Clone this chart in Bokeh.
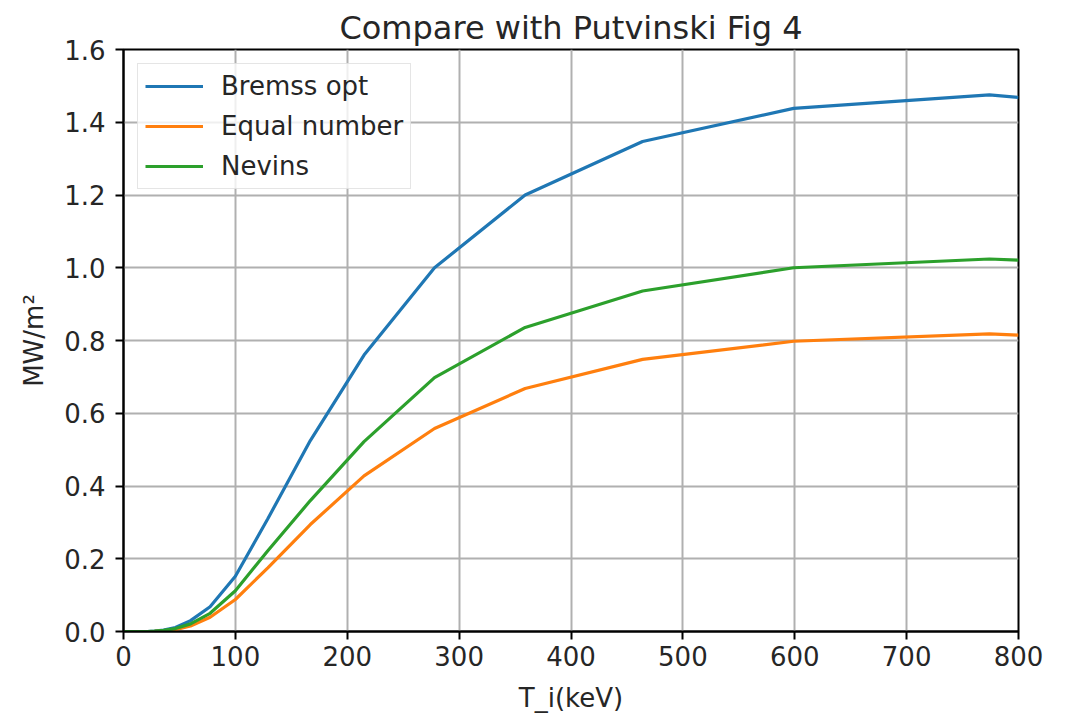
from bokeh.plotting import figure
from bokeh.models import ColumnDataSource, FixedTicker, PrintfTickFormatter, Range1d, Legend, LegendItem
from bokeh.embed import file_html
from bokeh.resources import INLINE

# Ion temperature grid (keV) and fusion power density (MW/m^2) per fuel mix
t_i = [0, 10, 12.9, 16.7, 21.5, 27.8, 35.9, 46.4, 59.9, 77.4, 100, 129, 167, 215, 278, 359, 464, 599, 774, 800]
bremss_opt = [0, 0, 0, 0, 0, 0.001, 0.004, 0.011, 0.030, 0.068, 0.152, 0.31, 0.525, 0.76, 1.0, 1.2, 1.347, 1.438, 1.475, 1.468]
equal_number = [0, 0, 0, 0, 0, 0.0005, 0.002, 0.005, 0.015, 0.039, 0.088, 0.175, 0.294, 0.428, 0.558, 0.668, 0.748, 0.798, 0.818, 0.815]
nevins = [0, 0, 0, 0, 0, 0.001, 0.003, 0.008, 0.021, 0.050, 0.112, 0.222, 0.36, 0.522, 0.698, 0.836, 0.936, 1.0, 1.024, 1.021]

x_ticks = [0, 100, 200, 300, 400, 500, 600, 700, 800]
y_ticks = [0.0, 0.2, 0.4, 0.6, 0.8, 1.0, 1.2, 1.4, 1.6]

series = [
    ("Bremss opt", bremss_opt, "#1f77b4"),
    ("Equal number", equal_number, "#ff7f0e"),
    ("Nevins", nevins, "#2ca02c"),
]

FONT = "DejaVu Sans"
TXT = "#262626"

p = figure(width=1066, height=721, output_backend="svg", toolbar_location=None,
           x_range=Range1d(0, 800), y_range=Range1d(0, 1.6),
           min_border_left=123, min_border_right=48, min_border_top=49, min_border_bottom=90,
           title="Compare with Putvinski Fig 4")

p.title.align = "center"
p.title.text_font = FONT
p.title.text_font_size = "32px"
p.title.text_font_style = "normal"
p.title.text_color = TXT
p.title.standoff = 6

items = []
for name, ys, color in series:
    src = ColumnDataSource(dict(x=t_i, y=ys))
    r = p.line("x", "y", source=src, line_color=color, line_width=3.2)
    items.append(LegendItem(label=name, renderers=[r]))

legend = Legend(items=items, location="top_left")
legend.margin = 14
legend.padding = 7
legend.spacing = 10
legend.glyph_width = 58
legend.glyph_height = 28
legend.label_height = 28
legend.label_standoff = 18
legend.label_text_font = FONT
legend.label_text_font_size = "26px"
legend.label_text_color = TXT
legend.border_line_color = "#cccccc"
legend.border_line_width = 1.5
legend.background_fill_color = "white"
legend.background_fill_alpha = 0.8
p.add_layout(legend)

for ax in (p.xaxis[0], p.yaxis[0]):
    ax.axis_line_color = "black"
    ax.axis_line_width = 2
    ax.major_tick_line_color = "black"
    ax.major_tick_line_width = 2
    ax.major_tick_out = 8
    ax.major_tick_in = 0
    ax.minor_tick_out = 0
    ax.minor_tick_in = 0
    ax.major_label_text_font = FONT
    ax.major_label_text_font_size = "26px"
    ax.major_label_text_color = TXT
    ax.axis_label_text_font = FONT
    ax.axis_label_text_font_size = "26px"
    ax.axis_label_text_font_style = "normal"
    ax.axis_label_text_color = TXT

p.xaxis[0].ticker = FixedTicker(ticks=x_ticks)
p.yaxis[0].ticker = FixedTicker(ticks=y_ticks)
p.xaxis[0].formatter = PrintfTickFormatter(format="%d")
p.yaxis[0].formatter = PrintfTickFormatter(format="%.1f")
p.xaxis[0].major_label_standoff = 6
p.yaxis[0].major_label_standoff = 10
p.xaxis[0].axis_label = "T_i(keV)"
p.yaxis[0].axis_label = "MW/m²"
p.xaxis[0].axis_label_standoff = 14
p.yaxis[0].axis_label_standoff = 12

p.xgrid.ticker = FixedTicker(ticks=x_ticks)
p.ygrid.ticker = FixedTicker(ticks=y_ticks)
for g in (p.xgrid[0], p.ygrid[0]):
    g.grid_line_color = "#b0b0b0"
    g.grid_line_width = 2

p.outline_line_color = "black"
p.outline_line_width = 2
p.outline_line_alpha = 1
p.background_fill_color = "white"
p.border_fill_color = "white"

open("out.html", "w").write(file_html(p, INLINE))
